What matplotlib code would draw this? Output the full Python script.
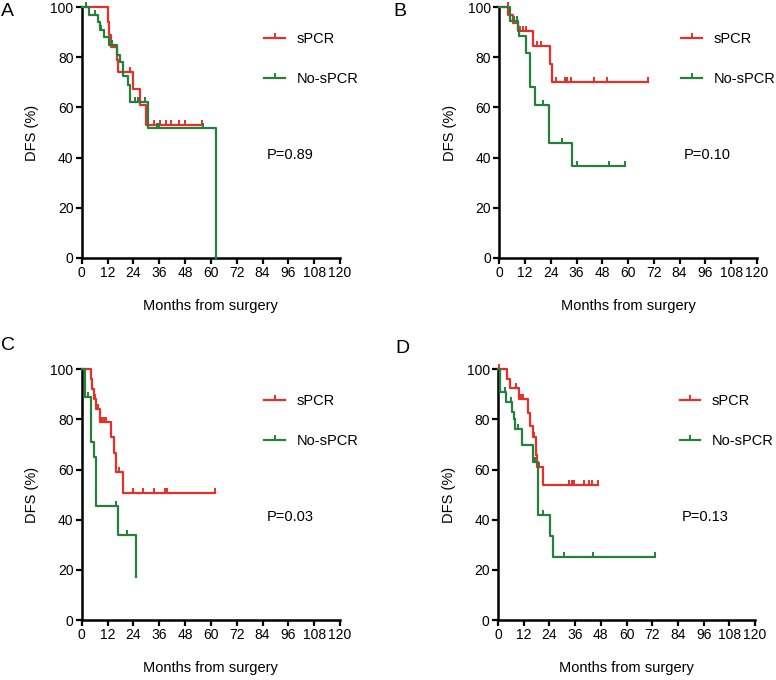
import numpy as np
import matplotlib.pyplot as plt
from matplotlib.lines import Line2D

plt.rcParams['font.family'] = ['Liberation Sans', 'DejaVu Sans']

# 读取的数据 (months, DFS %)
# A
a_spcr_t = [0, 12, 12.7, 13.5, 16.3, 17, 24, 27, 29.8]
a_spcr_s = [100, 94, 89, 84, 79, 74, 67.5, 61, 53]
a_spcr_cens = [22.5, 33.5, 36.5, 39, 41.5, 45, 48, 55.7]
a_spcr_end = 55.7
a_no_t = [0, 3.6, 7.7, 8.3, 10.4, 12.5, 16.5, 17.8, 19.0, 21.7, 22.5, 30.8, 62.4]
a_no_s = [100, 97, 94, 91, 88, 85, 81, 78, 72.5, 69, 62, 52, 0]
a_no_cens = [2, 6, 9, 14, 24.8, 26, 29.5, 34.8, 36, 56.5]
a_no_end = 62.4
a_p = 'P=0.89'

# B
b_spcr_t = [0, 4.2, 6.2, 8.6, 15.6, 23.6, 24.6]
b_spcr_s = [100, 97, 93.5, 90.5, 84.5, 77.5, 70]
b_spcr_cens = [4, 9.5, 10.8, 12.5, 17.5, 19.5, 26.4, 30.6, 31.4, 33.4, 44.2, 50.4, 69.5]
b_spcr_end = 69.5
b_no_t = [0, 5, 8.5, 9.3, 12.2, 14.5, 16.8, 23, 34]
b_no_s = [100, 94.5, 91, 88.5, 81.5, 68, 61, 46, 36.8]
b_no_cens = [7, 8, 20.5, 29.2, 36, 51, 58.5]
b_no_end = 58.5
b_p = 'P=0.10'

# C
c_spcr_t = [0, 4.2, 5.0, 5.7, 6.8, 8.5, 13.5, 15, 16, 19.4]
c_spcr_s = [100, 96, 92, 88, 84, 79, 73, 66.5, 59, 50.5]
c_spcr_cens = [6.3, 7.5, 9.2, 10.2, 11.3, 17.5, 23.7, 28.3, 33.6, 38.8, 39.5, 62]
c_spcr_end = 62
c_no_t = [0, 1.5, 4.3, 5.7, 6.7, 17, 25.2]
c_no_s = [100, 89, 71, 65, 45.5, 34, 17]
c_no_cens = [2.7, 15.8, 20.9, 25.3]
c_no_end = 25.3
c_p = 'P=0.03'

# D
d_spcr_t = [0, 4.2, 5.7, 9.6, 14.2, 15, 16.3, 17.5, 18.1, 20.9]
d_spcr_s = [100, 96, 92.5, 88, 82.5, 77.5, 73, 66, 61, 54]
d_spcr_cens = [0.3, 8.5, 10.5, 11.5, 16.8, 19, 33.3, 34.4, 35.6, 40.2, 42.4, 43.7, 46.7]
d_spcr_end = 46.7
d_no_t = [0, 1.1, 3.9, 6.6, 7.3, 7.7, 11.1, 16.1, 18.6, 24.3, 25.5]
d_no_s = [100, 91, 87, 83, 80, 76, 70, 63, 42, 33.5, 25]
d_no_cens = [3.3, 6, 9.5, 17.2, 20.9, 30.8, 44.4, 73.5]
d_no_end = 73.5
d_p = 'P=0.13'

labels = ['sPCR', 'No-sPCR']
red = '#e5302a'
green = '#25803a'

x_ticks = np.arange(0, 121, 12)
y_ticks = np.arange(0, 101, 20)

# censor tick marker: vertical line going up from the point
tick_marker = np.array([[0, 0], [0, 1]])

panels = [
    ('A', [0.1053, 0.6206, 0.3329, 0.369], (7.5 / 776, 1 - 11 / 680),
     (a_spcr_t, a_spcr_s, a_spcr_cens, a_spcr_end), (a_no_t, a_no_s, a_no_cens, a_no_end), a_p),
    ('B', [0.6435, 0.6206, 0.3318, 0.369], (400 / 776, 1 - 11 / 680),
     (b_spcr_t, b_spcr_s, b_spcr_cens, b_spcr_end), (b_no_t, b_no_s, b_no_cens, b_no_end), b_p),
    ('C', [0.1053, 0.0882, 0.3329, 0.3687], (8.5 / 776, 1 - 345 / 680),
     (c_spcr_t, c_spcr_s, c_spcr_cens, c_spcr_end), (c_no_t, c_no_s, c_no_cens, c_no_end), c_p),
    ('D', [0.6418, 0.0882, 0.3312, 0.3687], (402.5 / 776, 1 - 349 / 680),
     (d_spcr_t, d_spcr_s, d_spcr_cens, d_spcr_end), (d_no_t, d_no_s, d_no_cens, d_no_end), d_p),
]


def draw_km(ax, t, s, cens, end, color):
    xs = list(t) + [end]
    ys = list(s) + [s[-1]]
    ax.step(xs, ys, where='post', color=color, lw=1.6, clip_on=False, zorder=3)
    idx = np.searchsorted(t, cens, side='right') - 1
    cy = np.array(s)[idx]
    ax.plot(cens, cy, ls='none', marker=tick_marker, markersize=7,
            markeredgecolor=color, markeredgewidth=1.4, clip_on=False, zorder=3)


fig = plt.figure(figsize=(7.76, 6.8), dpi=100)

for letter, pos, lpos, sp, no, ptxt in panels:
    ax = fig.add_axes(pos)
    draw_km(ax, *sp, red)
    draw_km(ax, *no, green)

    ax.set_xlim(0, 120)
    ax.set_ylim(0, 100)
    ax.set_xticks(x_ticks)
    ax.set_yticks(y_ticks)
    ax.spines['top'].set_visible(False)
    ax.spines['right'].set_visible(False)
    for sp_name in ['left', 'bottom']:
        ax.spines[sp_name].set_linewidth(1.8)
    ax.tick_params(direction='out', length=4, width=1.6, labelsize=10, pad=2)

    ax.set_xlabel('Months from surgery', fontsize=10.5)
    ax.xaxis.set_label_coords(0.5, -0.165)
    ax.set_ylabel('DFS (%)', fontsize=10.5)
    ax.yaxis.set_label_coords(-0.165, 0.5)

    handles = [Line2D([], [], color=red, lw=1.6, marker=tick_marker, markersize=7,
                      markeredgewidth=1.4),
               Line2D([], [], color=green, lw=1.6, marker=tick_marker, markersize=7,
                      markeredgewidth=1.4)]
    ax.legend(handles, labels, loc='center left', bbox_to_anchor=(0.707, 0.793),
              frameon=False, fontsize=10.5, handlelength=1.4, handletextpad=0.8,
              labelspacing=1.75, borderpad=0, borderaxespad=0, numpoints=1)

    ax.text(0.716, 0.41, ptxt, transform=ax.transAxes, fontsize=10.5,
            ha='left', va='center')

    fig.text(lpos[0], lpos[1], letter, fontsize=14, ha='center', va='center')

fig.savefig('out.png', dpi=100)
